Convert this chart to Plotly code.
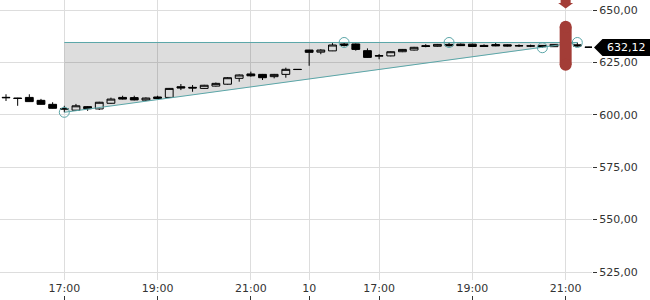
import plotly.graph_objects as go

# ---------------- data ----------------
times = (
    [f"9 {h:02d}:{m:02d}" for h in range(15, 23) for m in (0, 15, 30, 45)
     if (h, m) >= (15, 45) and (h, m) <= (22, 0)]
    + [f"10 {h:02d}:{m:02d}" for h in range(15, 22) for m in (0, 15, 30, 45)
       if (h, m) >= (15, 30) and (h, m) <= (21, 30)]
)

opens = [608.1, 608.0, 608.3, 606.9, 605.0, 602.7, 602.2, 603.9, 602.8, 605.5,
         608.3, 608.2, 607.0, 608.5, 608.3, 613.4, 613.1, 612.6, 613.7, 614.6,
         617.4, 619.5, 619.3, 618.2, 619.3, 621.7,
         630.9, 629.9, 630.5, 633.8, 633.8, 630.6, 628.0, 628.1, 630.1, 630.9,
         633.0, 632.7, 633.6, 633.7, 633.7, 633.1, 633.5, 633.4, 633.0, 632.9,
         633.1, 632.5, 633.5, 633.4, 632.4]
highs = [609.8, 608.1, 609.8, 607.6, 606.0, 604.3, 605.2, 604.2, 606.2, 608.2,
         609.1, 609.1, 608.3, 609.1, 612.8, 614.7, 614.2, 614.3, 615.4, 618.0,
         619.3, 620.6, 619.5, 619.5, 622.5, 621.8,
         631.0, 631.3, 634.2, 634.5, 634.0, 631.7, 629.0, 630.3, 631.4, 632.4,
         633.7, 633.8, 634.5, 634.0, 633.9, 633.6, 634.3, 633.6, 633.6, 633.5,
         633.3, 633.7, 634.0, 634.5, 632.5]
lows = [606.6, 604.3, 606.2, 604.9, 603.0, 601.2, 601.9, 601.9, 602.3, 605.3,
        607.3, 606.9, 606.6, 607.6, 608.1, 611.8, 611.0, 612.4, 613.5, 614.4,
        615.8, 618.2, 616.6, 617.4, 617.7, 621.5,
        623.4, 628.9, 630.4, 632.6, 630.6, 627.2, 626.5, 627.9, 629.9, 630.7,
        632.2, 632.5, 632.7, 632.8, 632.4, 632.4, 632.7, 632.6, 632.4, 632.3,
        632.0, 632.4, 632.6, 632.6, 632.0]
closes = [608.3, 607.8, 606.3, 605.0, 603.1, 602.9, 604.3, 602.9, 606.0, 607.5,
          607.5, 607.1, 608.0, 607.8, 612.6, 612.8, 612.8, 614.1, 615.0, 617.7,
          619.0, 618.6, 617.7, 619.3, 621.7, 621.6,
          629.8, 630.9, 633.3, 633.1, 631.2, 627.4, 628.2, 630.1, 631.2, 632.2,
          632.6, 633.6, 632.9, 633.0, 632.6, 632.6, 632.9, 632.8, 632.9, 632.8,
          632.5, 633.6, 633.1, 632.8, 632.12]

tick_times = ["9 17:00", "9 19:00", "9 21:00", "10 15:30", "10 17:00", "10 19:00", "10 21:00"]
tick_labels = ["17:00", "19:00", "21:00", "10", "17:00", "19:00", "21:00"]

y_ticks = [525, 550, 575, 600, 625, 650]
y_tick_labels = ["525,00", "550,00", "575,00", "600,00", "625,00", "650,00"]

# pattern pivots (time, price)
pivot_times = ["9 17:00", "10 16:15", "10 18:30", "10 20:30", "10 21:15"]
pivot_prices = [601.2, 634.5, 634.5, 632.0, 634.5]

signal_time = "10 21:00"
signal_top = 644.9
signal_bottom = 621.0

last_price = 632.12
last_label = "632,12"

# ---------------- figure ----------------
idx = list(range(len(times)))
pos = {t: i for i, t in enumerate(times)}

X_RANGE = [-0.515, 50.26]
Y_RANGE = [521.2, 654.77]
PLOT_H = 280
TEAL = "#5ba6a8"
RED = "#a33d37"
FONT = "DejaVu Sans"

fig = go.Figure()

pv = [pos[t] for t in pivot_times]
# shaded pattern area
fig.add_trace(go.Scatter(
    x=[pv[0], pv[4], pv[3], pv[0]],
    y=[pivot_prices[1], pivot_prices[4], pivot_prices[3], pivot_prices[0]],
    fill="toself", fillcolor="rgba(0,0,0,0.135)", mode="none",
    hoverinfo="skip", showlegend=False))
# upper line
fig.add_trace(go.Scatter(
    x=[pv[0], pv[4]], y=[pivot_prices[1], pivot_prices[4]],
    mode="lines", line=dict(color=TEAL, width=1), hoverinfo="skip", showlegend=False))
# lower line
fig.add_trace(go.Scatter(
    x=[pv[0], pv[3], pv[4]], y=[pivot_prices[0], pivot_prices[3], pivot_prices[4]],
    mode="lines", line=dict(color=TEAL, width=1), hoverinfo="skip", showlegend=False))

# candles
fig.add_trace(go.Candlestick(
    x=idx, open=opens, high=highs, low=lows, close=closes,
    increasing=dict(line=dict(color="black", width=1), fillcolor="white"),
    decreasing=dict(line=dict(color="black", width=1), fillcolor="black"),
    whiskerwidth=0, hoverinfo="skip", showlegend=False))

# pivot circles
fig.add_trace(go.Scatter(
    x=pv, y=pivot_prices, mode="markers",
    marker=dict(symbol="circle-open", size=10, color=TEAL, line=dict(width=1)),
    hoverinfo="skip", showlegend=False))

# signal bar (rounded)
si = pos[signal_time]
rad = 6 * (Y_RANGE[1] - Y_RANGE[0]) / PLOT_H
fig.add_trace(go.Scatter(
    x=[si, si], y=[signal_top - rad, signal_bottom + rad], mode="lines+markers",
    line=dict(color=RED, width=12), marker=dict(color=RED, size=12),
    hoverinfo="skip", showlegend=False, cliponaxis=False))

Y_DOM = [20 / 300, 1]
def ypaper(v):
    return Y_DOM[0] + (v - Y_RANGE[0]) / (Y_RANGE[1] - Y_RANGE[0]) * (Y_DOM[1] - Y_DOM[0])

# signal arrow at top
fig.add_shape(
    type="path", xref="paper", yref="paper",
    xsizemode="pixel", ysizemode="pixel",
    xanchor=(si - X_RANGE[0]) / (X_RANGE[1] - X_RANGE[0]), yanchor=1,
    path="M -5 2 L 5 2 L 5 -3 L 7.5 -3 L 0 -8.5 L -7.5 -3 L -5 -3 Z",
    fillcolor=RED, line=dict(width=0), layer="above")

# last price label
fig.add_shape(
    type="path", xref="paper", yref="paper",
    xsizemode="pixel", ysizemode="pixel", xanchor=1, yanchor=ypaper(last_price),
    path="M 2 0 L 10.5 8.5 L 60 8.5 L 60 -8.5 L 10.5 -8.5 Z",
    fillcolor="black", line=dict(width=0), layer="above")
fig.add_annotation(
    xref="paper", yref="y", x=1, y=last_price, text=last_label, showarrow=False,
    xanchor="center", yanchor="middle", xshift=34,
    font=dict(family=FONT, size=11, color="white"))

tickvals_x = [pos[t] for t in tick_times]

fig.update_layout(
    width=650, height=300,
    margin=dict(l=0, r=58, t=0, b=0),
    paper_bgcolor="white", plot_bgcolor="white",
    showlegend=False,
    font=dict(family=FONT, size=11, color="#333333"),
    boxgap=0.33, boxgroupgap=0,
    xaxis=dict(
        range=X_RANGE, rangeslider=dict(visible=False), anchor="y",
        tickmode="array", tickvals=tickvals_x, ticktext=tick_labels,
        showgrid=True, gridcolor="#dddddd", gridwidth=1,
        zeroline=False, showline=False, ticks="",
        tickfont=dict(family=FONT, size=11, color="#333333")),
    xaxis2=dict(
        range=X_RANGE, overlaying="x", anchor="free", position=0, side="bottom",
        tickmode="array", tickvals=tickvals_x, showticklabels=False,
        showgrid=False, zeroline=False, showline=False,
        ticks="inside", ticklen=4, tickcolor="#333333"),
    yaxis=dict(
        domain=Y_DOM, range=Y_RANGE, side="right",
        tickmode="array", tickvals=y_ticks, ticktext=y_tick_labels,
        showgrid=True, gridcolor="#dddddd", gridwidth=1,
        zeroline=False, showline=False,
        ticks="outside", ticklen=4, tickcolor="#333333",
        tickfont=dict(family=FONT, size=11, color="#333333")),
)
# invisible trace to activate xaxis2
fig.add_trace(go.Scatter(x=[X_RANGE[0]], y=[Y_RANGE[0]], xaxis="x2", mode="markers",
                         marker=dict(opacity=0), hoverinfo="skip", showlegend=False))

fig.write_html("out.html")
